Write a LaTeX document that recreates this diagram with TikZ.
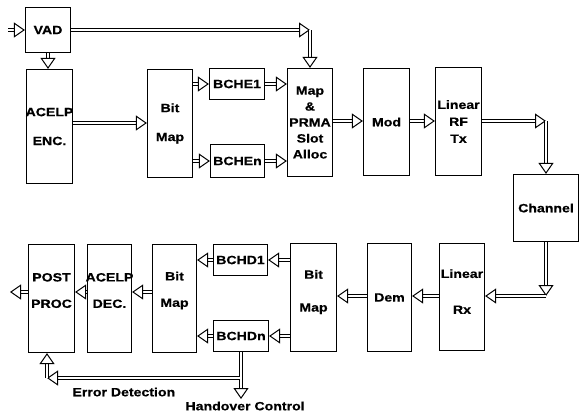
\documentclass[tikz,border=0pt]{standalone}
\usepackage{fontspec}
\newfontfamily\blkfont{Liberation Sans}[FakeStretch=1.18, FakeBold=0.6]
\newcommand{\lbl}{\blkfont\bfseries\fontsize{12}{16}\selectfont}
\newcommand{\wide}[1]{\makebox[36pt]{#1}}
\usetikzlibrary{arrows.meta}

\begin{document}
\begin{tikzpicture}[x=1bp, y=-1bp,
    blk/.style={draw, line width=1.2bp, inner sep=0pt, align=center, font=\lbl},
    txt/.style={font=\lbl, align=center},
    dbl/.style={double, double distance=2bp, line width=1bp,
        -{Triangle[open, length=11bp, width=15bp, line width=1bp]}}]
    \useasboundingbox (0,0) rectangle (579,416);

    % Transmitter chain
    \node[blk, minimum width=45bp, minimum height=45bp] (vad) at (48,30) {VAD};
    \node[blk, minimum width=46bp, minimum height=114bp] (enc) at (49.5,126.5) {\wide{ACELP}\\[13pt]ENC.};
    \node[blk, minimum width=45bp, minimum height=108bp] (bmt) at (170,123.5) {Bit\\[13pt]Map};
    \node[blk, minimum width=55bp, minimum height=31bp] (e1) at (237,84) {BCHE1};
    \node[blk, minimum width=54bp, minimum height=33bp] (en) at (237.5,161) {BCHEn};
    \node[blk, minimum width=45bp, minimum height=108bp] (map) at (310,122.5) {Map\\\&\\PRMA\\Slot\\Alloc};
    \node[blk, minimum width=46bp, minimum height=107bp] (mod) at (386.5,122) {Mod};
    \node[blk, minimum width=46bp, minimum height=108bp] (tx) at (458.5,121.5) {\wide{Linear}\\[1pt]RF\\[1pt]Tx};
    \node[blk, minimum width=65bp, minimum height=67bp] (chan) at (546,208) {Channel};

    % Receiver chain
    \node[blk, minimum width=45bp, minimum height=107bp,
        label={[txt, yshift=5.5pt]center:{\wide{Linear}\\[20pt]Rx}}] (rx) at (462,297) {};
    \node[blk, minimum width=44bp, minimum height=108bp] (dem) at (389.5,297.5) {Dem};
    \node[blk, minimum width=46bp, minimum height=108bp,
        label={[txt, yshift=5.5pt]center:{Bit\\[17pt]Map}}] (bmr) at (313.5,297.5) {};
    \node[blk, minimum width=54bp, minimum height=31bp] (d1) at (240.5,260) {BCHD1};
    \node[blk, minimum width=55bp, minimum height=31bp] (dn) at (241,336) {BCHDn};
    \node[blk, minimum width=44bp, minimum height=108bp,
        label={[txt, yshift=8pt]center:{Bit\\[10.5pt]Map}}] (bmb) at (174.5,298.5) {};
    \node[blk, minimum width=44bp, minimum height=108bp,
        label={[txt, yshift=8pt]center:{\wide{ACELP}\\[10.5pt]DEC.}}] (dec) at (109.5,298.5) {};
    \node[blk, minimum width=46bp, minimum height=108bp,
        label={[txt, yshift=8pt]center:{POST\\[10.5pt]PROC}}] (post) at (51.5,298.5) {};

    % Transmit path
    \coordinate (in) at (8,30);
    \draw[dbl] (in) -- (vad.west);
    \draw[dbl] (vad.south) -- (vad.south |- enc.north);
    \coordinate (c1) at (310,30);
    \draw[dbl] (vad.east) -- (c1);
    \draw[dbl] (c1) -- (map.north);
    \coordinate (r1) at (0,123);
    \draw[dbl] (enc.east |- r1) -- (bmt.west |- r1);
    \draw[dbl] (bmt.east |- e1) -- (e1.west);
    \draw[dbl] (bmt.east |- en) -- (en.west);
    \draw[dbl] (e1.east) -- (map.west |- e1);
    \draw[dbl] (en.east) -- (map.west |- en);
    \coordinate (r2) at (0,121);
    \draw[dbl] (map.east |- r2) -- (mod.west |- r2);
    \draw[dbl] (mod.east |- r2) -- (tx.west |- r2);
    \coordinate (c2) at (546,121);
    \draw[dbl] (tx.east |- c2) -- (c2);
    \draw[dbl] (c2) -- (chan.north);

    % Receive path
    \coordinate (c3) at (546,296);
    \draw[dbl] (chan.south) -- (c3);
    \draw[dbl] (c3) -- (rx.east |- c3);
    \draw[dbl] (rx.west |- c3) -- (dem.east |- c3);
    \draw[dbl] (dem.west |- c3) -- (bmr.east |- c3);
    \draw[dbl] (bmr.west |- d1) -- (d1.east);
    \draw[dbl] (bmr.west |- dn) -- (dn.east);
    \draw[dbl] (d1.west) -- (bmb.east |- d1);
    \draw[dbl] (dn.west) -- (bmb.east |- dn);
    \coordinate (r3) at (0,292);
    \draw[dbl] (bmb.west |- r3) -- (dec.east |- r3);
    \draw[dbl] (dec.west |- r3) -- (post.east |- r3);
    \coordinate (out) at (10,292);
    \draw[dbl] (post.west |- r3) -- (out);

    % Control outputs
    \coordinate (ho) at (241,399);
    \draw[dbl] (dn.south) -- (ho);
    \coordinate (br) at (240,378);
    \coordinate (c4) at (47,378);
    \draw[dbl] (br) -- (c4);
    \draw[dbl] (c4) -- (c4 |- post.south);
    \node[txt, anchor=west] (errlbl) at (69,392) {Error Detection};
    \node[txt, anchor=west] (holbl) at (182,406) {Handover Control};
\end{tikzpicture}
\end{document}
